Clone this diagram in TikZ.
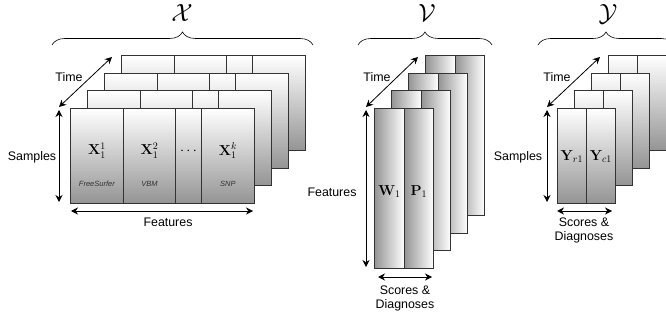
\documentclass[tikz,border=0pt]{standalone}
\usepackage[no-math]{fontspec}
\newfontfamily\labelfont{Liberation Sans}
\usetikzlibrary{arrows.meta,decorations.pathreplacing}

\tikzset{
    panel/.style={draw=black!80, line width=0.8pt, inner sep=0pt, anchor=north west},
    xcol/.style={panel, top color=white, bottom color=black!42},
    vcol/.style={panel, left color=black!42, right color=white},
    dimarrow/.style={{Stealth[length=7pt,width=7pt]}-{Stealth[length=7pt,width=7pt]}, line width=0.8pt},
    lbl/.style={font=\labelfont\fontsize{12.4}{14}\selectfont, align=center},
    src/.style={font=\labelfont\itshape\fontsize{7.5}{9}\selectfont, text=black!80},
    mlbl/.style={font=\fontsize{14}{14}\selectfont},
    sym/.style={font=\fontsize{24}{24}\selectfont, inner sep=0pt, anchor=base},
    setbrace/.style={decorate, decoration={brace, amplitude=13pt}, line width=0.6pt}
}

\begin{document}
\begin{tikzpicture}[x=1pt, y=-1pt]
    % Sizes
    \pgfmathsetmacro{\dx}{17}
    \pgfmathsetmacro{\dy}{-17.5}
    \useasboundingbox (0,0) rectangle (666,320);

    % panels, back to front
    \foreach \k in {3,2,1,0} {
        \foreach \a/\b [count=\i] in {70/123, 123/175, 175/201, 201/254}
            \node[xcol, minimum width={\b-\a}, minimum height=95] (xp\k c\i) at (\a+\k*\dx, 108+\k*\dy) {};
        \foreach \a/\b [count=\i] in {374/404, 404/433}
            \node[vcol, minimum width={\b-\a}, minimum height=160] (vp\k c\i) at (\a+\k*\dx, 108+\k*\dy) {};
        \foreach \a/\b [count=\i] in {557/586, 586/615}
            \node[xcol, minimum width={\b-\a}, minimum height=95] (yp\k c\i) at (\a+\k*\dx, 108+\k*\dy) {};
    }

    % vertices
    \coordinate (xb1) at (52,45);
    \coordinate (xb2) at (313,45);
    \coordinate (vb1) at (358,45);
    \coordinate (vb2) at (492,45);
    \coordinate (yb1) at (538,45);
    \coordinate (yb2) at (674,45);
    \coordinate (xt1) at (59,107);
    \coordinate (xt2) at (112,57);
    \coordinate (xs1) at (59,110);
    \coordinate (xs2) at (59,202);
    \coordinate (xf1) at (71,211);
    \coordinate (xf2) at (253,211);
    \coordinate (vt1) at (366,107);
    \coordinate (vt2) at (418,57);
    \coordinate (vf1) at (366,110);
    \coordinate (vf2) at (366,267);
    \coordinate (vd1) at (378,277);
    \coordinate (vd2) at (432,277);
    \coordinate (yt1) at (547,107);
    \coordinate (yt2) at (600,57);
    \coordinate (ys1) at (547,110);
    \coordinate (ys2) at (547,202);
    \coordinate (yd1) at (557,211);
    \coordinate (yd2) at (612,211);

    % braces and arrows
    \draw[setbrace] (xb1) -- (xb2);
    \draw[setbrace] (vb1) -- (vb2);
    \draw[setbrace] (yb1) -- (yb2);
    \draw[dimarrow] (xt1) -- (xt2);
    \draw[dimarrow] (xs1) -- (xs2);
    \draw[dimarrow] (xf1) -- (xf2);
    \draw[dimarrow] (vt1) -- (vt2);
    \draw[dimarrow] (vf1) -- (vf2);
    \draw[dimarrow] (vd1) -- (vd2);
    \draw[dimarrow] (yt1) -- (yt2);
    \draw[dimarrow] (ys1) -- (ys2);
    \draw[dimarrow] (yd1) -- (yd2);

    % labels
    \node[sym] (xsym) at (182,22) {$\mathcal{X}$};
    \node[sym] (vsym) at (427,22) {$\mathcal{V}$};
    \node[sym] (ysym) at (608,22) {$\mathcal{Y}$};

    \node[mlbl] (x1) at ([yshift=5pt]xp0c1.center) {$\mathbf{X}_1^1$};
    \node[mlbl] (x2) at ([yshift=5pt]xp0c2.center) {$\mathbf{X}_1^2$};
    \node[mlbl] (x3) at ([yshift=5pt]xp0c3.center) {$\cdots$};
    \node[mlbl] (xk) at ([yshift=5pt]xp0c4.center) {$\mathbf{X}_1^k$};
    \node[src] (fs) at ([yshift=-28pt]xp0c1.center) {FreeSurfer};
    \node[src] (vbm) at ([yshift=-28pt]xp0c2.center) {VBM};
    \node[src] (snp) at ([yshift=-28pt]xp0c4.center) {SNP};
    \node[mlbl] (w1) at ([yshift=-3pt]vp0c1.center) {$\mathbf{W}_1$};
    \node[mlbl] (p1) at ([yshift=-3pt]vp0c2.center) {$\mathbf{P}_1$};
    \node[mlbl] (yr) at ([yshift=-1pt]yp0c1.center) {$\mathbf{Y}_{r1}$};
    \node[mlbl] (yc) at ([yshift=-1pt]yp0c2.center) {$\mathbf{Y}_{c1}$};

    \node[lbl] (xtime) at (69,77) {Time};
    \node[lbl] (xsamp) at (32,157) {Samples};
    \node[lbl] (xfeat) at (168,222) {Features};
    \node[lbl] (vtime) at (377,77) {Time};
    \node[lbl] (vfeat) at (332,192) {Features};
    \node[lbl] (vsd) at (405,298) {Scores \&\\Diagnoses};
    \node[lbl] (ytime) at (557,77) {Time};
    \node[lbl] (ysamp) at (518,157) {Samples};
    \node[lbl] (ysd) at (584,230) {Scores \&\\Diagnoses};
\end{tikzpicture}
\end{document}
